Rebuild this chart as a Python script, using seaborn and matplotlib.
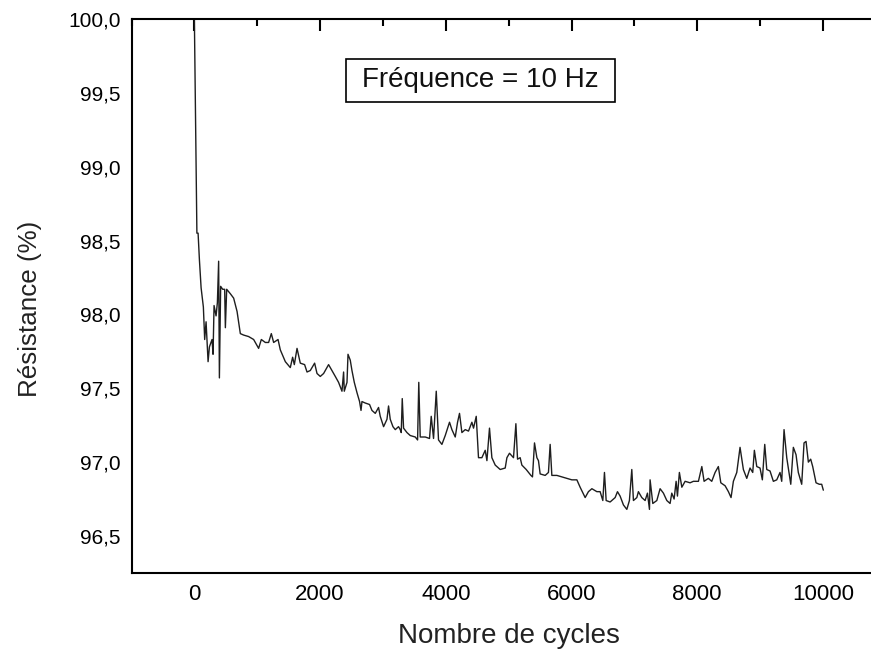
import numpy as np
import pandas as pd
import matplotlib
matplotlib.use("Agg")
import matplotlib.pyplot as plt
from matplotlib.patches import Rectangle
from matplotlib.ticker import FixedLocator, MultipleLocator, FuncFormatter
import seaborn as sns

# values
cycles = [0, 30, 40, 59, 80, 107, 143, 164, 186, 218, 239, 281, 297, 313, 345, 366,
          386, 398, 418, 450, 482, 493, 514, 572, 625, 679, 731, 784, 863, 943, 1022,
          1065, 1129, 1181, 1224, 1261, 1331, 1367, 1447, 1526, 1563, 1590, 1633, 1685,
          1754, 1792, 1844, 1913, 1951, 2003, 2056, 2135, 2189, 2242, 2294, 2348, 2374,
          2385, 2428, 2444, 2480, 2507, 2544, 2587, 2628, 2651, 2666, 2719, 2787, 2825,
          2878, 2930, 2957, 3010, 3064, 3089, 3116, 3159, 3196, 3248, 3275, 3291, 3307,
          3328, 3382, 3434, 3514, 3551, 3570, 3593, 3673, 3741, 3768, 3805, 3848, 3884,
          3938, 3991, 4059, 4097, 4150, 4187, 4218, 4256, 4309, 4361, 4415, 4441, 4484,
          4520, 4574, 4627, 4654, 4695, 4733, 4786, 4865, 4945, 4972, 5013, 5077, 5115,
          5141, 5183, 5210, 5279, 5354, 5379, 5411, 5449, 5474, 5501, 5581, 5633, 5660,
          5687, 5767, 5846, 5926, 6005, 6085, 6137, 6217, 6269, 6324, 6403, 6455, 6498,
          6524, 6551, 6614, 6694, 6731, 6773, 6826, 6880, 6921, 6959, 6985, 7039, 7064,
          7118, 7171, 7208, 7240, 7250, 7293, 7357, 7409, 7462, 7516, 7568, 7595, 7632,
          7664, 7685, 7716, 7755, 7807, 7886, 7939, 8019, 8073, 8109, 8177, 8231, 8284,
          8336, 8375, 8443, 8496, 8538, 8575, 8629, 8681, 8734, 8788, 8840, 8883, 8909,
          8947, 8999, 9036, 9074, 9106, 9158, 9211, 9265, 9317, 9344, 9381, 9424, 9488,
          9529, 9572, 9608, 9662, 9699, 9731, 9768, 9805, 9837, 9890, 9942, 9980, 10006]
resistance = [100.0, 98.95, 98.55, 98.55, 98.37, 98.18, 98.05, 97.83, 97.95, 97.68, 97.78,
              97.83, 97.73, 98.06, 97.99, 98.08, 98.36, 97.57, 98.19, 98.17, 98.17, 97.91,
              98.17, 98.14, 98.11, 98.02, 97.87, 97.86, 97.85, 97.83, 97.77, 97.83, 97.81,
              97.81, 97.87, 97.81, 97.83, 97.76, 97.68, 97.64, 97.71, 97.66, 97.77, 97.67,
              97.66, 97.61, 97.62, 97.67, 97.60, 97.58, 97.60, 97.66, 97.62, 97.58, 97.54,
              97.48, 97.61, 97.48, 97.54, 97.73, 97.69, 97.62, 97.54, 97.47, 97.41, 97.35,
              97.41, 97.40, 97.39, 97.35, 97.33, 97.37, 97.31, 97.24, 97.29, 97.38, 97.29,
              97.24, 97.22, 97.24, 97.22, 97.20, 97.43, 97.23, 97.20, 97.18, 97.17, 97.15,
              97.54, 97.17, 97.17, 97.16, 97.31, 97.16, 97.48, 97.15, 97.12, 97.18, 97.27,
              97.22, 97.17, 97.27, 97.33, 97.20, 97.22, 97.21, 97.27, 97.23, 97.31, 97.03,
              97.03, 97.08, 97.01, 97.23, 97.03, 96.98, 96.95, 96.96, 97.03, 97.06, 97.03,
              97.26, 97.02, 97.03, 96.98, 96.95, 96.91, 96.90, 97.13, 97.03, 97.01, 96.92,
              96.91, 96.93, 97.12, 96.91, 96.91, 96.90, 96.89, 96.88, 96.88, 96.83, 96.76,
              96.80, 96.82, 96.80, 96.80, 96.74, 96.93, 96.74, 96.73, 96.76, 96.80, 96.77,
              96.71, 96.68, 96.74, 96.95, 96.74, 96.76, 96.80, 96.76, 96.74, 96.79, 96.68,
              96.88, 96.72, 96.74, 96.82, 96.79, 96.74, 96.72, 96.79, 96.75, 96.87, 96.77,
              96.93, 96.83, 96.87, 96.86, 96.87, 96.87, 96.97, 96.87, 96.89, 96.87, 96.93,
              96.97, 96.86, 96.84, 96.80, 96.76, 96.87, 96.93, 97.10, 96.95, 96.89, 96.96,
              96.93, 97.08, 96.97, 96.96, 96.88, 97.12, 96.95, 96.94, 96.87, 96.88, 96.93,
              96.87, 97.22, 97.03, 96.85, 97.10, 97.05, 96.93, 96.85, 97.13, 97.14, 97.00,
              97.02, 96.97, 96.86, 96.85, 96.85, 96.81]

y_ticks = [96.5, 97.0, 97.5, 98.0, 98.5, 99.0, 99.5, 100.0]
x_ticks = [0, 2000, 4000, 6000, 8000, 10000]

df = pd.DataFrame({"cycles": cycles, "resistance": resistance})

sns.set_style("white")
plt.rcParams["font.family"] = ["Liberation Sans", "DejaVu Sans"]

fig = plt.figure(figsize=(8.71, 6.54), dpi=100)
# right edge of the axes runs past the picture, as in the (cropped) original
ax = fig.add_axes([0.151, 0.124, 0.866, 0.847])

sns.lineplot(data=df, x="cycles", y="resistance", ax=ax, color="#1e1e1e",
             linewidth=1.0, estimator=None, sort=False)

ax.set_xlim(-1000, 11000)
ax.set_ylim(96.25, 100.0)
ax.xaxis.set_major_locator(FixedLocator(x_ticks))
ax.xaxis.set_minor_locator(MultipleLocator(1000))
ax.yaxis.set_major_locator(FixedLocator(y_ticks))
ax.yaxis.set_minor_locator(MultipleLocator(0.25))
ax.yaxis.set_major_formatter(FuncFormatter(lambda v, p: f"{v:.1f}".replace(".", ",")))

ax.tick_params(which="both", direction="in", top=True, right=True, colors="black",
               width=1.5)
ax.tick_params(which="major", length=8.5, pad=8)
ax.tick_params(which="minor", length=5)
ax.tick_params(axis="x", labelsize=16)
ax.tick_params(axis="y", labelsize=15)
for s in ax.spines.values():
    s.set_linewidth(1.5)
    s.set_color("black")

ax.set_xlabel("Nombre de cycles", fontsize=20, color="#222222")
ax.set_ylabel("Résistance (%)", fontsize=18.7, color="#222222")
ax.xaxis.set_label_coords(0.5, -0.09)
ax.yaxis.set_label_coords(-0.1186, 0.477)

ax.add_patch(Rectangle((0.2843, 0.8506), 0.3565, 0.0777, transform=ax.transAxes,
                       facecolor="white", edgecolor="black", linewidth=1.2, zorder=3))
ax.text(0.4626, 0.8895, "Fréquence = 10 Hz", transform=ax.transAxes, ha="center",
        va="center", fontsize=20, color="#111111", zorder=4)

fig.savefig("out.png", dpi=100)
